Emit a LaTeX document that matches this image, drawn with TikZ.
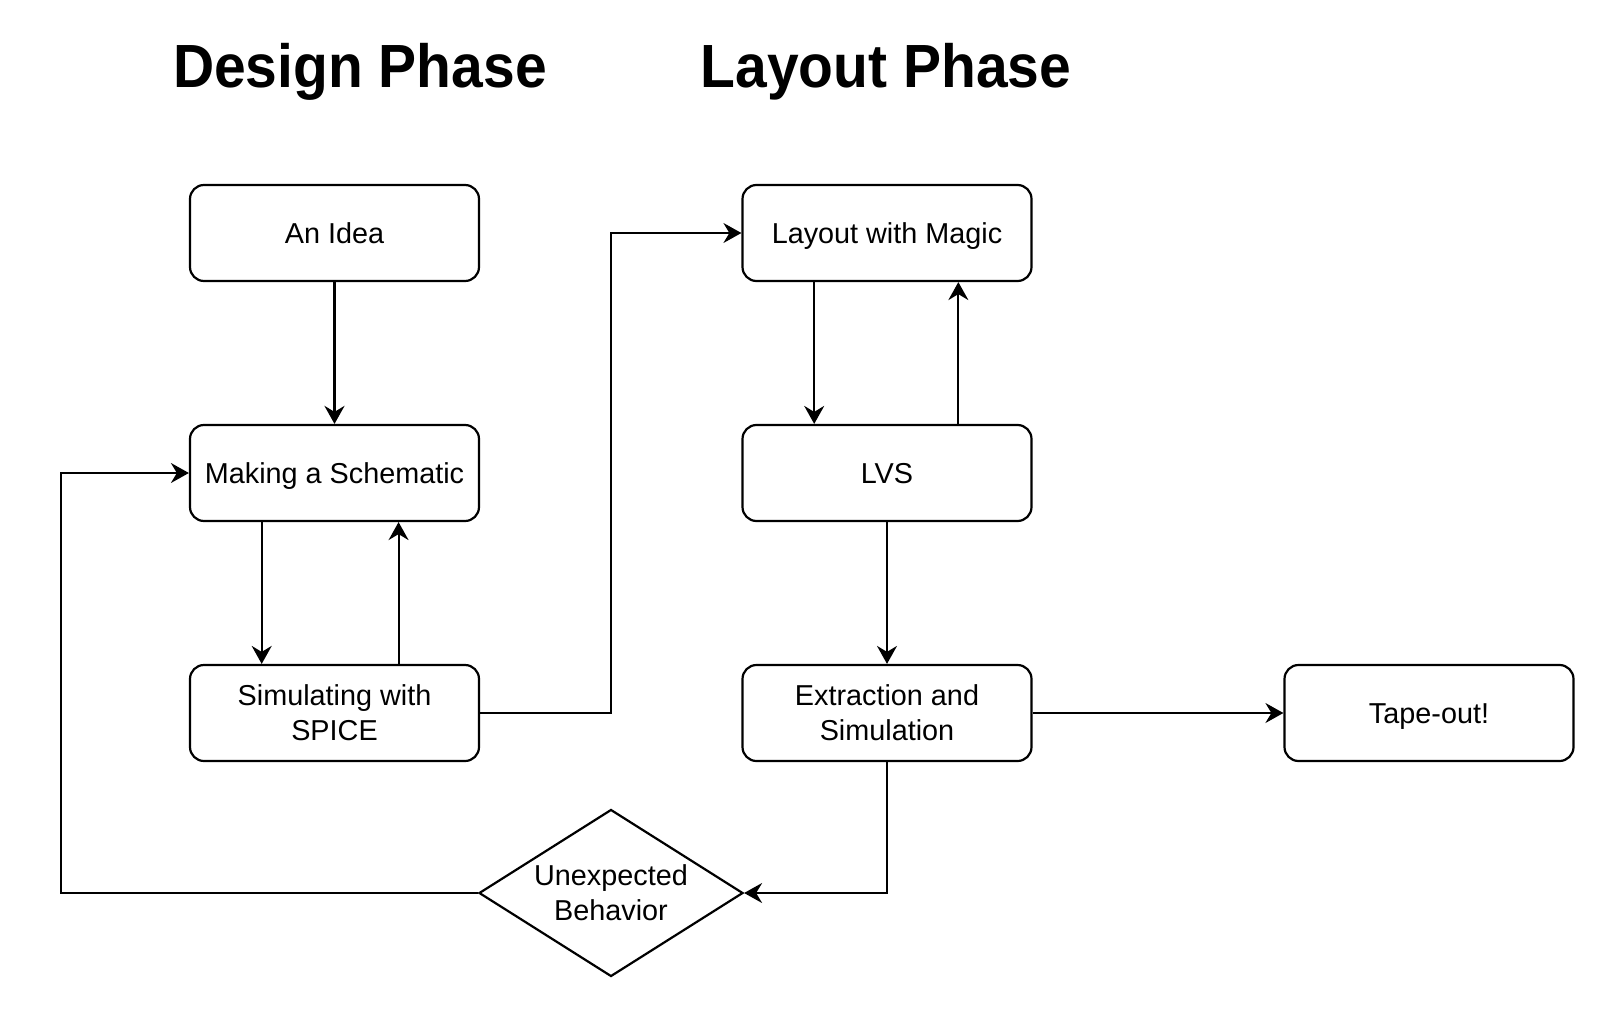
\documentclass[tikz,border=0pt]{standalone}
\usepackage{fontspec}
\setmainfont{Liberation Sans}
\usetikzlibrary{shapes.geometric,arrows.meta,calc}
\begin{document}
\begin{tikzpicture}[x=0.5pt,y=-0.5pt,
  box/.style={draw,line width=1.1pt,rounded corners=7pt,minimum width=144.5pt,minimum height=48pt,inner sep=0pt,align=center,font=\fontsize{14.4}{17.5}\selectfont},
  oneline/.style={text height=10.3pt,text depth=0pt},
  decision/.style={draw,line width=1.1pt,shape=diamond,aspect=1.58,minimum width=132pt,minimum height=83.5pt,inner sep=0pt,align=center,font=\fontsize{14.4}{17.5}\selectfont},
  title/.style={font=\fontsize{28.5}{30}\selectfont\bfseries,inner sep=0pt,text height=20.4pt,text depth=0pt,yscale=1.07,transform shape},
  arr/.style={line width=1pt,-{Stealth[length=9pt,width=10pt,inset=3pt]}}]
\useasboundingbox (0,0) rectangle (1622,1022);
\node[title] (t1) at (360,66) {Design Phase};
\node[title] (t2) at (886,66) {Layout Phase};
\node[box,oneline] (idea) at (334.5,233) {An Idea};
\node[box,oneline] (schem) at (334.5,473) {Making a Schematic};
\node[box] (spice) at (334.5,713) {Simulating with\\SPICE};
\node[box,oneline] (magic) at (887,233) {Layout with Magic};
\node[box,oneline] (lvs) at (887,473) {LVS};
\node[box] (extr) at (887,713) {Extraction and\\Simulation};
\node[box,oneline] (tape) at (1429,713) {Tape-out!};
\node[decision] (dia) at (611,893) {Unexpected\\Behavior};
\coordinate (lft) at (61,893);
\draw[arr,line width=1.3pt] (idea) -- (schem);
\draw[arr] ($(schem.south west)!0.25!(schem.south east)$) -- ($(spice.north west)!0.25!(spice.north east)$);
\draw[arr] ($(spice.north west)!0.72!(spice.north east)$) -- ($(schem.south west)!0.72!(schem.south east)$);
\draw[arr] (spice.east) -- (spice.east -| dia.north) |- (magic.west);
\draw[arr] ($(magic.south west)!0.25!(magic.south east)$) -- ($(lvs.north west)!0.25!(lvs.north east)$);
\draw[arr] ($(lvs.north west)!0.745!(lvs.north east)$) -- ($(magic.south west)!0.745!(magic.south east)$);
\draw[arr] (lvs) -- (extr);
\draw[arr] (extr) -- (tape);
\draw[arr] (extr.south) |- (dia.east);
\draw[arr] (dia.west) -- (lft) |- (schem.west);
\end{tikzpicture}
\end{document}
